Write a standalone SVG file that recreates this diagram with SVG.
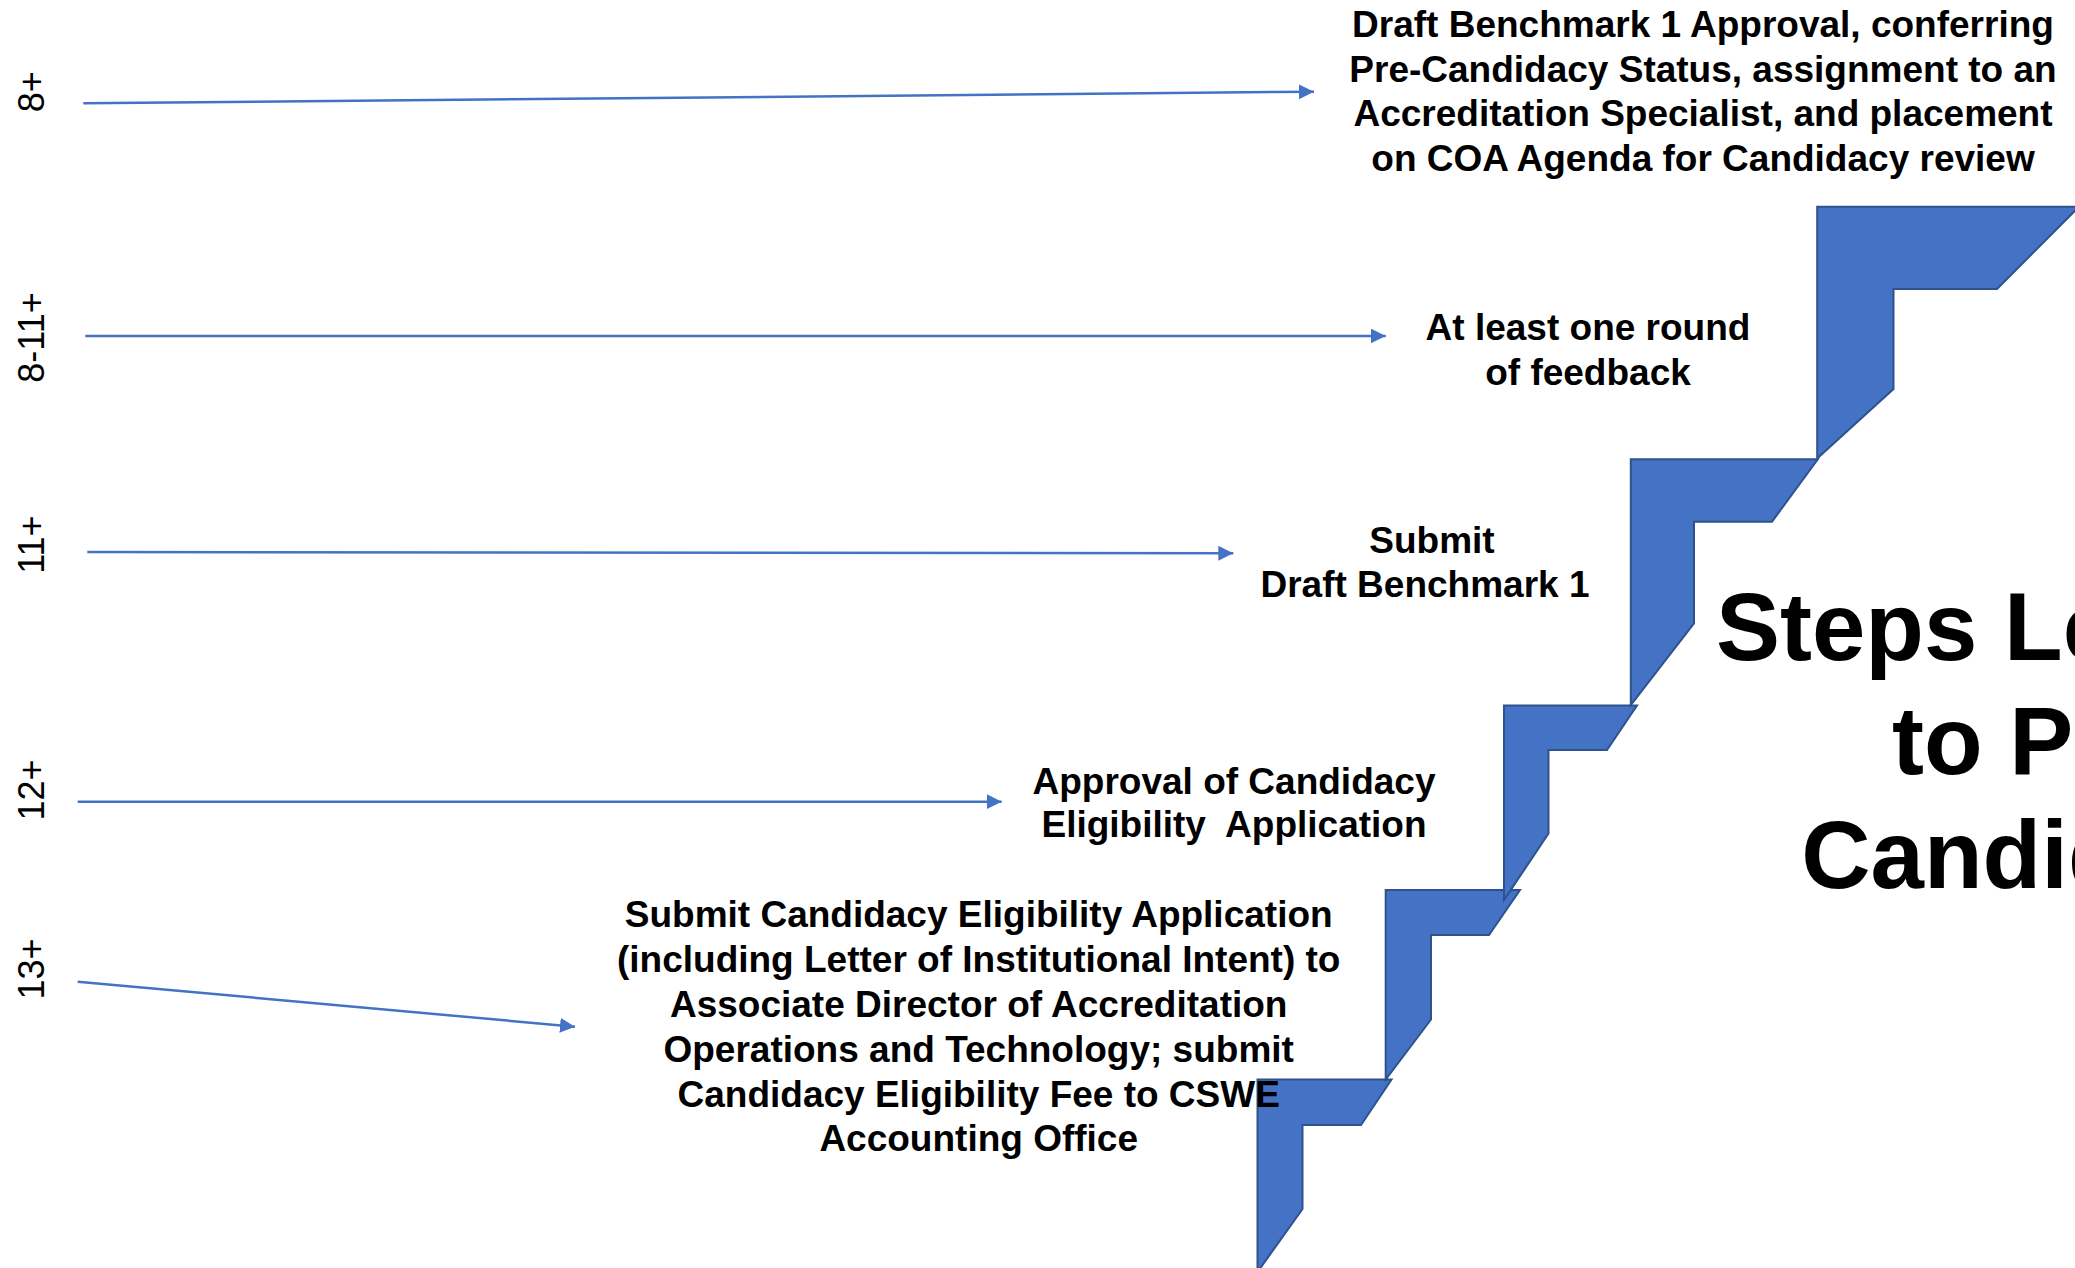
<svg xmlns="http://www.w3.org/2000/svg" width="2075" height="1268" viewBox="0 0 2075 1268">
  <style>
    .lbl { font-family: "Liberation Sans", Arial, sans-serif; font-weight: bold; font-size: 37px; fill: #000; text-anchor: middle; }
    .time { font-family: "Liberation Sans", Arial, sans-serif; font-size: 36px; fill: #000; text-anchor: middle; }
    .title { font-family: "Liberation Sans", Arial, sans-serif; font-weight: bold; font-size: 96px; fill: #000; text-anchor: middle; }
    .step { fill: #4472C4; stroke: #2F528F; stroke-width: 2; stroke-linejoin: miter; }
    .conn { stroke: #4472C4; stroke-width: 2.5; fill: none; marker-end: url(#arrow); }
  </style>
  <defs>
    <marker id="arrow" markerUnits="userSpaceOnUse" markerWidth="16" markerHeight="16" refX="15" refY="7.5" orient="auto">
      <path d="M0,0 L15,7.5 L0,15 z" fill="#4472C4"/>
    </marker>
  </defs>
  <rect width="2075" height="1268" fill="#fff"/>

  <g id="stairs">
    <polygon class="step" points="1257.5,1079.5 1391.5,1079.5 1361,1125 1302.5,1125 1302.5,1209 1257.5,1272"/>
    <polygon class="step" points="1385.7,890 1520,890 1489,935 1431,935 1431,1019.5 1385.7,1079.5"/>
    <polygon class="step" points="1504,705.5 1637,705.5 1607,750 1548.5,750 1548.5,833.5 1504,900"/>
    <polygon class="step" points="1630.8,459.3 1817.8,459.3 1772,521.7 1694,521.7 1694,623.3 1630.8,705"/>
    <polygon class="step" points="1817.2,206.7 2079,206.7 1997,289 1893.5,289 1893.5,389 1817.2,458.5"/>
  </g>

  <g id="connectors">
    <line class="conn" x1="83.3" y1="103.3" x2="1314" y2="91.7"/>
    <line class="conn" x1="85.3" y1="336" x2="1385.7" y2="336"/>
    <line class="conn" x1="87.3" y1="552" x2="1233.3" y2="553.3"/>
    <line class="conn" x1="77.7" y1="801.7" x2="1001.7" y2="801.7"/>
    <line class="conn" x1="77.7" y1="981.7" x2="575" y2="1026.7"/>
  </g>

  <g id="time-8">
    <text class="time" transform="translate(44,91.7) rotate(-90)">8+</text>
  </g>
  <g id="time-8-11">
    <text class="time" transform="translate(44,337.5) rotate(-90)">8-11+</text>
  </g>
  <g id="time-11">
    <text class="time" transform="translate(44,544.6) rotate(-90)">11+</text>
  </g>
  <g id="time-12">
    <text class="time" transform="translate(44,790) rotate(-90)">12+</text>
  </g>
  <g id="time-13">
    <text class="time" transform="translate(44,969) rotate(-90)">13+</text>
  </g>

  <g id="step-draft-approval">
    <text class="lbl" x="1703" y="37.3">Draft Benchmark 1 Approval, conferring</text>
    <text class="lbl" x="1703" y="81.8">Pre-Candidacy Status, assignment to an</text>
    <text class="lbl" x="1703" y="126.3">Accreditation Specialist, and placement</text>
    <text class="lbl" x="1703" y="170.8">on COA Agenda for Candidacy review</text>
  </g>
  <g id="step-feedback">
    <text class="lbl" x="1588" y="340">At least one round</text>
    <text class="lbl" x="1588" y="385">of feedback</text>
  </g>
  <g id="step-submit-draft">
    <text class="lbl" x="1432" y="553">Submit</text>
    <text class="lbl" x="1425" y="597">Draft Benchmark 1</text>
  </g>
  <g id="step-approval">
    <text class="lbl" x="1234" y="794">Approval of Candidacy</text>
    <text class="lbl" x="1234" y="837.3" xml:space="preserve">Eligibility  Application</text>
  </g>
  <g id="step-submit-application">
    <text class="lbl" x="978.7" y="926.7">Submit Candidacy Eligibility Application</text>
    <text class="lbl" x="978.7" y="971.7">(including Letter of Institutional Intent) to</text>
    <text class="lbl" x="978.7" y="1016.7">Associate Director of Accreditation</text>
    <text class="lbl" x="978.7" y="1061.7">Operations and Technology; submit</text>
    <text class="lbl" x="978.7" y="1106.7">Candidacy Eligibility Fee to CSWE</text>
    <text class="lbl" x="978.7" y="1150.7">Accounting Office</text>
  </g>
  <g id="title">
    <text class="title" x="2044" y="660">Steps Leading</text>
    <text class="title" x="2044" y="773.5">to Pre-</text>
    <text class="title" x="2044" y="888">Candidacy</text>
  </g>
</svg>
